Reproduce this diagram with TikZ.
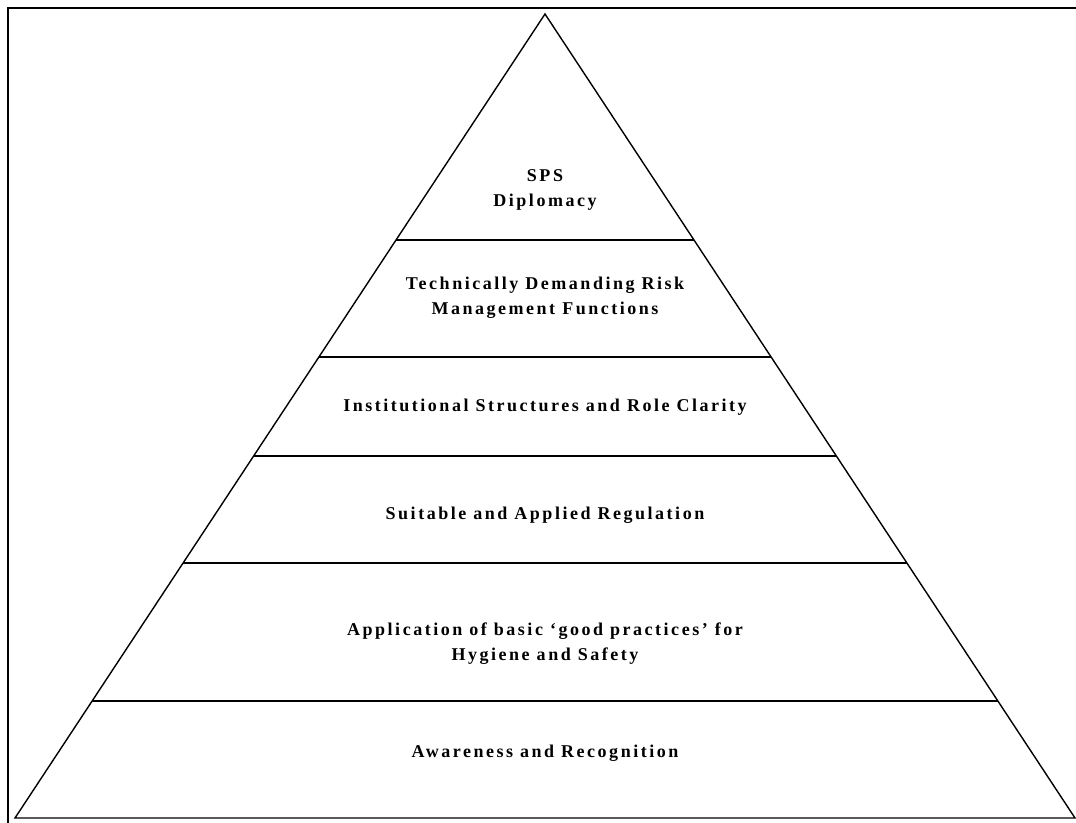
\documentclass[tikz,border=0pt]{standalone}
\usepackage{fontspec}
\setmainfont{Liberation Serif}
\newfontfamily\pyrfont[LetterSpace=14]{Liberation Serif}
\usetikzlibrary{calc}

\begin{document}
\begin{tikzpicture}[
            x=1pt, y=-1pt,
            tier/.style={align=center,inner sep=0pt,font=\pyrfont\bfseries\fontsize{18}{25}\selectfont},
            rim/.style={line width=1.4pt}
        ]
          \useasboundingbox (0,0) rectangle (1076,822);
          \clip (0,0) rectangle (1076,822);
          \draw[line width=2.2pt] (8,8) rectangle (1090,840);
          \coordinate (apex) at (545,14);
          \coordinate (bl) at (15,818);
          \coordinate (br) at (1075,818);
          \draw[rim] (bl) -- (apex) -- (br) -- cycle;
          % dividers between the tiers
          \foreach \t [count=\i] in {0.2811,0.4266,0.5498,0.6828,0.8545} {
            \coordinate (l\i) at ($(apex)!\t!(bl)$);
            \coordinate (r\i) at ($(apex)!\t!(br)$);
            \draw[rim] (l\i) -- (r\i);
          }
          \node[tier] (dipl) at (545,190) {SPS\\Diplomacy};
          \node[tier] (risk) at (545,298) {Technically Demanding Risk\\Management Functions};
          \node[tier] (inst) at (545,407) {Institutional Structures and Role Clarity};
          \node[tier] (regl) at (545,515) {Suitable and Applied Regulation};
          \node[tier] (good) at (545,644) {Application of basic ‘good practices’ for\\Hygiene and Safety};
          \node[tier] (awar) at (545,753) {Awareness and Recognition};
        \end{tikzpicture}
\end{document}
